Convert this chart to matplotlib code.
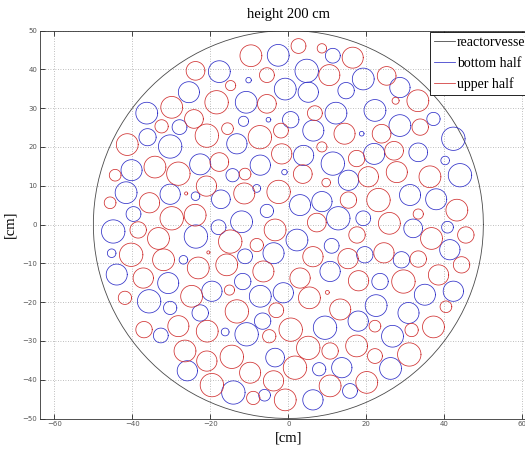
import numpy as np
import matplotlib
matplotlib.use("Agg")
import matplotlib.pyplot as plt

# pebble positions [cm] and radii [cm] at height 200 cm
bottom_x = [-25.5, -36.3, -27.9, -36.1, -30.3,
            11.4, -2.6, -17.7, 4.7, -10.2, -0.8, -10.8, 5.1, 14.8, 12.2, -11.5, -5.1, 0.6, 6.4, 18.8, -13.2,
            19.2, 28.6, 22.2, 37.2, 28.6, 42.3, 33.3, 22.0,
            -40.2, -22.6, -41.6, -30.3, -23.8, -17.3, -39.7, -44.9, -23.7, -17.9, -45.3, -26.9, -44.0, -30.8,
            -14.3, -7.2, 3.9, -1.0, 11.4, 15.4, -8.1, 3.0, 8.6, -5.5, -12.0, 12.8, 2.2, 11.1, -3.8, -11.1, 10.7, -11.7,
            40.2, 44.0, 31.2, 37.9, 19.2, 32.0, 40.8, 41.4, 19.6, 29.0, 23.5,
            -19.6, -35.7, -30.3, -22.6, -32.7, -16.2, -25.9,
            -7.2, -1.3, -6.6, -10.7, 9.4, -3.4, 7.9, 13.7, -14.1, -6.1, 6.3, 15.8,
            35.0, 42.3, 22.5, 30.8, 17.9, 26.7, 26.2]
bottom_y = [34.1, 28.7, 25.1, 22.5, 20.1,
            43.5, 43.6, 39.4, 39.6, 37.2, 34.9, 31.5, 34.1, 34.5, 28.7, 26.6, 27.0, 27.0, 24.2, 23.4, 20.8,
            37.5, 35.3, 29.4, 27.2, 25.5, 22.1, 18.6, 18.2,
            14.0, 15.5, 8.2, 7.8, 7.3, 6.5, 2.7, -1.8, -3.1, -0.7, -7.4, -9.1, -12.9, -15.1,
            12.7, 15.3, 17.8, 13.5, 15.7, 11.4, 9.3, 5.0, 5.9, 3.5, 0.7, 1.6, -4.0, -5.5, -7.4, -8.2, -12.1, -14.7,
            16.5, 12.7, 7.6, 6.5, 1.6, -1.0, -0.7, -6.5, -7.8, -9.1, -14.7,
            -17.2, -19.8, -21.5, -22.8, -28.6, -27.7, -37.7,
            -18.5, -17.6, -24.9, -28.3, -26.6, -34.3, -37.3, -36.9, -43.3, -44.0, -45.2, -42.9,
            -18.1, -17.2, -20.9, -22.8, -24.9, -28.8, -37.1]
bottom_r = [2.7, 2.8, 1.9, 2.2, 3.0,
            1.9, 2.8, 2.8, 3.0, 0.7, 2.8, 2.8, 2.6, 2.1, 2.8, 1.3, 0.6, 2.1, 2.7, 0.6, 2.6,
            2.8, 2.6, 2.8, 1.7, 2.8, 3.0, 2.4, 2.7,
            2.7, 2.7, 2.8, 2.6, 1.1, 2.4, 1.9, 3.0, 3.0, 1.9, 1.1, 1.1, 2.7, 2.7,
            1.7, 2.6, 2.6, 0.7, 3.0, 2.6, 1.0, 2.7, 2.6, 1.7, 2.8, 3.0, 2.8, 1.9, 2.7, 1.9, 2.6, 2.1,
            1.1, 3.0, 2.7, 2.7, 1.9, 2.4, 1.5, 2.6, 2.1, 2.1, 2.1,
            2.6, 3.0, 1.7, 2.1, 1.9, 1.0, 2.6,
            2.8, 2.6, 2.1, 3.0, 3.0, 2.4, 1.7, 2.6, 3.0, 1.5, 2.6, 1.9,
            2.7, 2.6, 2.8, 2.7, 2.6, 2.8, 2.8]

upper_x = [-23.8, -29.9, -24.2, -32.5, -41.3,
           2.6, 8.6, 16.5, -9.6, 10.5, -5.5, -14.8, -18.4, -5.5, 6.8, -1.9, 14.4, -15.6, -7.3, -20.9, 8.6,
           25.2, 33.2, 27.5, 33.8, 23.9, 27.1,
           -34.2, -44.4, -28.2, -17.7, -45.7, -35.6, -26.2, -21.0, -29.9, -23.9, -38.5, -33.3, -20.5, -40.3,
           -32.0, -23.1, -37.2,
           -11.1, -1.7, 3.7, 9.7, -11.3, -2.5, 15.4, -3.4, 7.3, -14.9, -8.1, 6.3, 15.3, -15.8, -6.4, 3.0,
           17.5, 20.5, 27.8, 36.3, 23.1, 43.2, 33.3, 25.9, 36.7, 45.5, 24.5, 33.3, 44.4, 29.5, 38.5, 18.0,
           17.6,
           -24.8, -41.9, -37.0, -28.2, -20.8, -26.5, -20.9, -19.6,
           -15.1, 5.4, 10.0, -13.2, -3.1, 13.3, -4.9, 0.6, 5.1, 10.7, -14.5, 1.7, -9.8, -3.8, 10.7, -9.0, -0.8,
           40.4, 22.2, 31.6, 37.2, 17.5, 22.2, 31.0, 20.1]
upper_y = [39.6, 30.2, 27.2, 25.3, 20.6,
           46.0, 45.4, 43.0, 43.5, 38.5, 38.5, 35.8, 31.5, 31.1, 28.7, 24.2, 23.4, 24.7, 22.5, 22.9, 20.0,
           38.3, 31.9, 31.9, 25.1, 23.4, 19.0,
           14.8, 12.7, 13.1, 16.1, 5.6, 5.6, 8.0, 9.9, 1.6, 2.4, -1.4, -3.6, -7.2, -7.8,
           -9.1, -11.2, -13.8,
           13.0, 18.2, 13.0, 10.8, 8.0, 8.4, 6.3, -1.4, 0.5, -4.4, -5.3, -8.3, -8.8, -10.4, -12.1, -13.8,
           17.0, 12.3, 13.5, 12.3, 6.3, 3.7, 2.7, 0.3, -3.6, -2.7, -7.3, -8.9, -10.4, -14.7, -13.0, -14.5,
           -2.7,
           -18.5, -18.9, -27.1, -26.2, -27.5, -32.6, -35.2, -41.4,
           -16.9, -18.9, -17.5, -22.4, -22.1, -21.9, -28.8, -27.1, -31.8, -32.6, -34.1, -36.9, -38.2, -40.3,
           -41.6, -44.7, -45.2,
           -21.2, -26.2, -27.2, -26.4, -31.3, -33.9, -33.5, -40.7]
upper_r = [2.4, 2.8, 2.4, 1.7, 2.8,
           1.9, 1.2, 2.7, 2.8, 2.7, 1.9, 1.3, 3.0, 2.4, 1.9, 1.9, 2.7, 1.5, 3.0, 3.0, 1.3,
           2.4, 2.8, 0.9, 2.1, 2.4, 2.4,
           2.8, 1.5, 3.0, 2.4, 1.5, 2.6, 0.4, 2.6, 3.0, 2.8, 2.1, 2.8, 0.4, 3.0,
           2.8, 2.8, 2.6,
           1.5, 2.6, 2.4, 1.1, 2.7, 3.0, 2.1, 2.8, 2.4, 3.0, 1.7, 2.6, 2.6, 2.8, 2.7, 2.6,
           2.1, 2.6, 2.7, 2.8, 3.0, 2.8, 1.3, 2.8, 2.8, 2.1, 2.6, 2.1, 2.1, 3.0, 2.6, 2.6,
           2.1,
           2.8, 1.7, 2.1, 2.7, 2.8, 2.8, 2.6, 3.0,
           1.3, 2.8, 0.5, 3.0, 1.9, 2.7, 1.7, 3.0, 3.0, 2.1, 3.0, 3.0, 2.7, 2.6, 2.8, 1.7, 2.8,
           1.5, 1.5, 1.7, 2.8, 2.8, 1.9, 3.0, 2.8]

vessel_r = 50.0

serif = ["Liberation Serif", "DejaVu Serif"]
t = np.linspace(0, 2 * np.pi, 120)

fig = plt.figure(figsize=(5.25, 4.5), dpi=100)
# axes run a bit past the right edge of the figure, like the original export
ax = fig.add_axes([40 / 525, 31.5 / 450, 496.7 / 525, 388 / 450])

ax.plot(vessel_r * np.cos(t), vessel_r * np.sin(t), color="#4a4a4a", lw=0.6, label="reactorvessel")

def draw_circles(xs, ys, rs, color, label):
    for i, (x0, y0, r) in enumerate(zip(xs, ys, rs)):
        ax.plot(x0 + r * np.cos(t), y0 + r * np.sin(t), color=color, lw=0.55,
                label=label if i == 0 else None)

draw_circles(bottom_x, bottom_y, bottom_r, "#3030c8", "bottom half")
draw_circles(upper_x, upper_y, upper_r, "#d03030", "upper half")

ax.set_xlim(-63.67, 63.67)
ax.set_ylim(-50, 50)
ax.set_xticks(np.arange(-60, 61, 20))
ax.set_yticks(np.arange(-50, 51, 10))
ax.grid(True, color="#a8a8a8", lw=0.6, linestyle=(0, (1, 2)))
ax.tick_params(direction="in", length=3.5, width=0.5, top=True, right=True, labelsize=5,
               labelcolor="#555555", pad=2)
for s in ax.spines.values():
    s.set_linewidth(0.6)
    s.set_color("#333333")

ax.set_title("height 200 cm", fontsize=10.5, family=serif, pad=9)
ax.set_xlabel("[cm]", fontsize=10.5, family=serif, labelpad=3)
ax.set_ylabel("[cm]", fontsize=10.5, family=serif, labelpad=4)

leg = ax.legend(loc="upper right", bbox_to_anchor=(0.993, 0.996), borderaxespad=0,
                prop={"family": serif, "size": 10}, fancybox=False, framealpha=1,
                edgecolor="black", handlelength=1.5, handletextpad=0.15,
                labelspacing=0.55, borderpad=0.3)
leg.get_frame().set_linewidth(0.6)

fig.savefig("out.png", dpi=100)
